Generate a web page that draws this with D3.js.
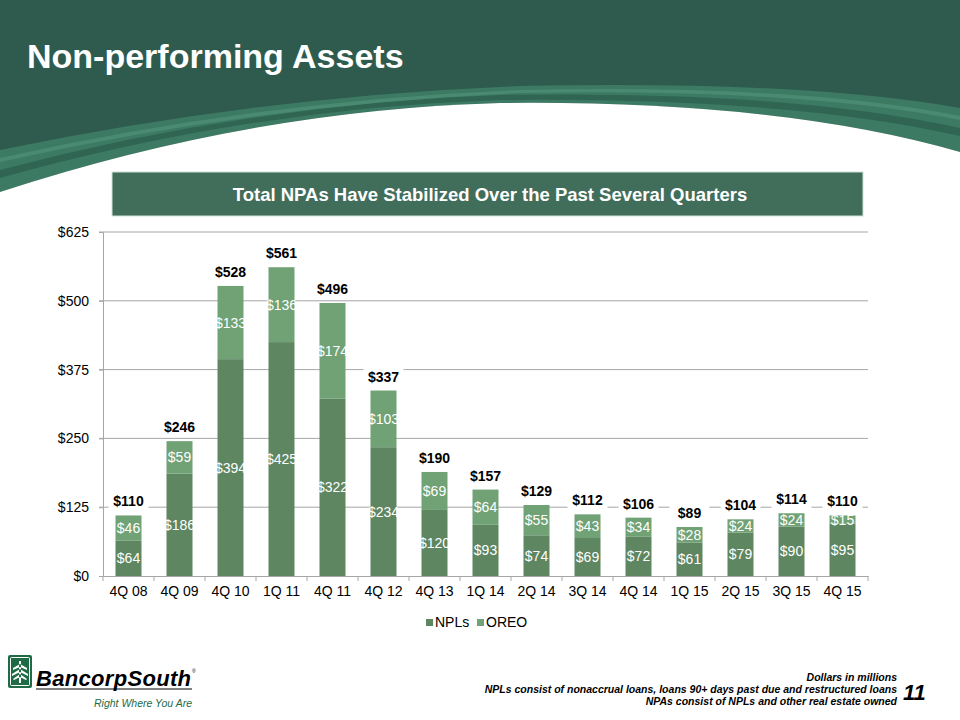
<!DOCTYPE html>
<html><head><meta charset="utf-8">
<script src="https://cdn.jsdelivr.net/npm/d3@7/dist/d3.min.js"></script>
<style>body{margin:0;background:#fff}svg{display:block}</style>
</head><body>
<svg id="c" width="960" height="720"></svg>
<script>
const categories = ["4Q 08","4Q 09","4Q 10","1Q 11","4Q 11","4Q 12","4Q 13","1Q 14","2Q 14","3Q 14","4Q 14","1Q 15","2Q 15","3Q 15","4Q 15"];
const npls = [64,186,394,425,322,234,120,93,74,69,72,61,79,90,95];
const oreo = [46,59,133,136,174,103,69,64,55,43,34,28,24,24,15];
const totals = [110,246,528,561,496,337,190,157,129,112,106,89,104,114,110];
const yTicks = [0,125,250,375,500,625];
const seriesNames = ["NPLs","OREO"];
const colors = ["#5e8661","#70a276"];

const svg = d3.select("#c");
const F = "'Liberation Sans', Arial, sans-serif";

// header
svg.append("rect").attr("x",0).attr("y",0).attr("width",960).attr("height",200).attr("fill","#2e5b4e");
svg.append("path").attr("d","M0,150 Q260,96 520,86 Q800,80 960,108 L960,152 Q780,100 500,103 Q250,110 0,192 Z").attr("fill","#3c7a63");
svg.append("path").attr("d","M0,170 Q250,104 500,95 Q790,90 960,128 L960,136 Q790,97 500,100 Q250,108 0,178 Z").attr("fill","#2f6552");
svg.append("path").attr("d","M0,158 Q260,100 520,90 Q800,84 960,116 L960,120 Q800,88 520,93 Q260,104 0,162 Z").attr("fill","#4a8a72");
svg.append("path").attr("d","M0,192 Q250,110 500,103 Q780,100 960,152 L960,720 L0,720 Z").attr("fill","#fff");
svg.append("text").attr("x",27).attr("y",68).attr("font-family",F).attr("font-weight","bold")
  .attr("font-size",34).attr("fill","#fff").text("Non-performing Assets");

// subtitle box
svg.append("rect").attr("x",112).attr("y",172).attr("width",751).attr("height",44)
  .attr("fill","#416d5b").attr("stroke","#cfe0d8").attr("stroke-width",1);
svg.append("text").attr("x",490).attr("y",201).attr("text-anchor","middle").attr("font-family",F)
  .attr("font-weight","bold").attr("font-size",18.5).attr("fill","#fff").text("Total NPAs Have Stabilized Over the Past Several Quarters");

// chart
const x = d3.scaleBand().domain(categories).range([103,868]).paddingInner(0.49).paddingOuter(0.245);
const y = d3.scaleLinear().domain([0,625]).range([576,232]);
const g = svg.append("g");

g.selectAll(".grid").data(yTicks.filter(d=>d>0)).join("line")
  .attr("x1",99).attr("x2",868).attr("y1",d=>y(d)).attr("y2",d=>y(d)).attr("stroke","#a6a6a6").attr("stroke-width",1);

const yAxis = g.append("g").attr("transform","translate(103,0)")
  .call(d3.axisLeft(y).tickValues(yTicks).tickSize(4).tickFormat(d=>"$"+d));
yAxis.select(".domain").attr("stroke","#a6a6a6");
yAxis.selectAll(".tick line").attr("stroke","#a6a6a6");
yAxis.selectAll("text").attr("font-family",F).attr("font-size",14).attr("fill","#000").attr("dx",-7);

const xAxis = g.append("g").attr("transform","translate(0,576)")
  .call(d3.axisBottom(x).tickSize(0).tickPadding(10));
xAxis.select(".domain").attr("stroke","#a6a6a6");
xAxis.selectAll("text").attr("font-family",F).attr("font-size",14).attr("fill","#000");
const step = x.step();
g.selectAll(".xt").data(d3.range(categories.length+1)).join("line")
  .attr("x1",i=>103+i*step).attr("x2",i=>103+i*step).attr("y1",576).attr("y2",581).attr("stroke","#a6a6a6");

const rows = categories.map((c,i)=>({cat:c, NPLs:npls[i], OREO:oreo[i], total:totals[i]}));
const stack = d3.stack().keys(seriesNames)(rows);

stack.forEach((s,si)=>{
  g.selectAll(".bar"+si).data(s).join("rect")
    .attr("x",d=>x(d.data.cat)).attr("width",x.bandwidth())
    .attr("y",d=>y(d[1])).attr("height",d=>y(d[0])-y(d[1]))
    .attr("fill",colors[si]);
});
stack.forEach((s,si)=>{
  g.selectAll(".lab"+si).data(s).join("text")
    .attr("x",d=>x(d.data.cat)+x.bandwidth()/2).attr("y",d=>(y(d[0])+y(d[1]))/2+5)
    .attr("text-anchor","middle").attr("font-family",F).attr("font-size",14).attr("fill","#fff")
    .text(d=>"$"+(d[1]-d[0]));
});

// totals
const tg = g.selectAll(".tot").data(rows).join("g")
  .attr("transform",d=>`translate(${x(d.cat)+x.bandwidth()/2},${y(d.NPLs+d.OREO)-9})`);
tg.append("rect").attr("x",-20).attr("y",-14).attr("width",40).attr("height",18).attr("fill","#fff");
tg.append("text").attr("text-anchor","middle").attr("font-family",F).attr("font-weight","bold")
  .attr("font-size",14).attr("fill","#000").text(d=>"$"+d.total);

// legend
const lg = svg.append("g");
const lx = [426,477];
seriesNames.forEach((n,i)=>{
  lg.append("rect").attr("x",lx[i]).attr("y",619).attr("width",7).attr("height",7).attr("fill",colors[i]);
  lg.append("text").attr("x",lx[i]+9).attr("y",627).attr("font-family",F).attr("font-size",14).attr("fill","#000").text(n);
});

// footer notes
const FN = "'Liberation Sans Narrow','Liberation Sans',Arial,sans-serif";
const notes = ["Dollars in millions","NPLs consist of nonaccrual loans, loans 90+ days past due and restructured loans","NPAs consist of NPLs and other real estate owned"];
notes.forEach((t,i)=>{
  svg.append("text").attr("x",897).attr("y",681+i*12).attr("text-anchor","end").attr("font-family",FN)
    .attr("font-style","italic").attr("font-weight","bold").attr("font-size",10.5).attr("fill","#000").text(t);
});
svg.append("text").attr("x",903).attr("y",700).attr("font-family",F).attr("font-style","italic")
  .attr("font-weight","bold").attr("font-size",22).attr("fill","#000").text("11");

// logo
const logo = svg.append("g");
logo.append("rect").attr("x",8).attr("y",655).attr("width",24).attr("height",33).attr("rx",2).attr("fill","#1e6b45");
logo.append("rect").attr("x",10.5).attr("y",657.5).attr("width",19).attr("height",28).attr("rx",1).attr("fill","none").attr("stroke","#fff").attr("stroke-width",1);
logo.append("path").attr("d","M19,661 L21,661 L21,683 L19,683 Z M20,664 L13,668 L13,670 L20,667 L27,670 L27,668 Z M20,669 L12,674 L12,676 L20,672 L28,676 L28,674 Z M20,674 L13,679 L14,680 L20,677 L26,680 L27,679 Z").attr("fill","#fff");
logo.append("text").attr("x",36).attr("y",686).attr("font-family",F).attr("font-style","italic")
  .attr("font-weight","bold").attr("font-size",22).attr("textLength",155).attr("fill","#000").text("BancorpSouth");
logo.append("line").attr("x1",36).attr("x2",192).attr("y1",689).attr("y2",689).attr("stroke","#000").attr("stroke-width",1);
logo.append("text").attr("x",192).attr("y",673).attr("font-family",F).attr("font-size",5).attr("fill","#000").text("®");
logo.append("text").attr("x",94).attr("y",707).attr("font-family",FN).attr("font-style","italic")
  .attr("font-size",10.5).attr("fill","#1e6b45").text("Right Where You Are");
</script>
</body></html>
